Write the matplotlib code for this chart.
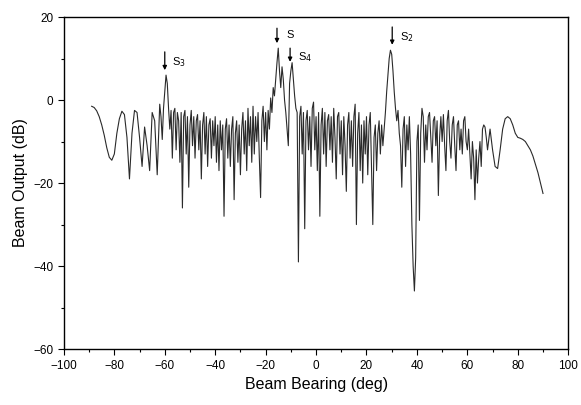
import numpy as np
import matplotlib.pyplot as plt

plt.rcParams['font.family'] = ['Liberation Sans', 'DejaVu Sans']

# beam output (dB), in three pieces:
# smooth left side, every 1 deg from -89 to -63
left_out = [
    -1.5, -1.8, -2.6, -4.0, -6.0, -8.5, -11.5, -13.8, -14.5, -13.0,
    -8.0, -4.5, -2.7, -3.5, -9.0, -19.0, -8.0, -2.5, -3.0, -9.0,
    -16.0, -6.5, -11.0, -17.0, -3.0, -5.0, -18.0,
]
# noisy middle, every 0.5 deg from -62 to 68
mid_out = [
    -1, -4, -9.5, -2, 2, 6, 4, -2, -7, -2.5,
    -14, -3, -2, -12, -3, -5, -15, -3, -26, -4,
    -2.5, -13, -4, -21, -6, -2.5, -11, -4, -14, -5,
    -3.5, -12, -5, -19, -6, -3, -13, -4, -16, -6,
    -4.5, -14, -5, -11, -4, -15, -6, -17, -5, -12,
    -6, -28, -7, -4.5, -14, -6, -16, -7, -4, -24,
    -8, -5, -15, -6, -18, -7, -3, -13, -5, -17,
    -2, -11, -4, -15, -1.5, -13, -4, -10, -3, -14,
    -23.5, -5, -1.5, -10, -3, -12, -2.5, -7, 0.5, -3,
    3, 1, 5, 9, 12.5, 7, 3, 8, 5, 0,
    -3, -7, -11, 4, 7, 9, 5, 1, -2, -3,
    -39, -4, -1.5, -13, -3, -31, -5, -2.5, -12, -4,
    -16, -2, -0.5, -12, -4, -17, -3, -28, -6, -2,
    -13, -3, -16, -5, -3.5, -12, -4, -15, -2, -9,
    -19, -4, -3, -13, -5, -18, -4, -11, -22, -6,
    -3, -14, -5, -16, -4, -1, -30, -8, -3, -17,
    -6, -20, -5, -13, -4, -18, -6, -3, -16, -30,
    -9, -6, -17, -8, -5, -13, -6, -11, -7, -3,
    2, 6, 10, 12, 11, 7, 2, -2, -5, -2.5,
    -8, -11, -21, -7, -4, -16, -6, -12, -4, -13,
    -30, -40, -46, -38, -10, -6, -29, -8, -2, -4,
    -15, -6, -12, -4, -3, -9, -15, -5, -4, -11,
    -5, -23, -9, -4, -10, -3.5, -11, -17, -5, -2.5,
    -10, -14, -6, -4, -11, -17, -6, -5, -12, -7,
    -13, -5, -4, -10, -12, -7, -13, -19, -10, -14,
    -24, -12, -20, -14, -10, -16, -7, -6, -6.5, -9,
    -12,
]
# smooth right side, every 1 deg from 69 to 90
right_out = [
    -7.0, -12.0, -16.0, -16.5, -12.0, -7.0, -4.5, -4.0, -4.5, -6.0,
    -8.0, -9.0, -9.2, -9.5, -10.0, -11.0, -12.0, -13.5, -15.5, -17.5,
    -20.0, -22.5,
]

bearing = np.concatenate([np.arange(-89, -62, 1.0),
                          np.arange(-62, 68.5, 0.5),
                          np.arange(69, 91, 1.0)])
output = np.array(left_out + mid_out + right_out, dtype=float)

# source markers
src_names = ['S$_3$', 'S', 'S$_4$', 'S$_2$']
src_x = [-60, -15.5, -10.3, 30.2]
src_top = [11.6, 17.3, 12.5, 17.6]
src_tip = [7.2, 13.7, 9.2, 13.3]
src_lab = [(-57, 9.2), (-11.8, 15.7), (-7.0, 10.4), (33.2, 15.2)]

fig = plt.figure(figsize=(5.81, 4.05), dpi=100)
ax = fig.add_axes([0.110, 0.138, 0.868, 0.820])

ax.plot(bearing, output, color='#2a2a2a', lw=0.8)

for name, x, top, tip, (lx, ly) in zip(src_names, src_x, src_top, src_tip, src_lab):
    ax.annotate('', xy=(x, tip), xytext=(x, top),
                arrowprops=dict(arrowstyle='-|>', color='black', lw=0.9,
                                mutation_scale=6, shrinkA=0, shrinkB=0))
    ax.text(lx, ly, name, fontsize=8, va='center', ha='left')

ax.set_xlim(-100, 100)
ax.set_ylim(-60, 20)
ax.set_xticks(np.arange(-100, 101, 20))
ax.set_xticks(np.arange(-90, 100, 20), minor=True)
ax.set_yticks(np.arange(-60, 21, 20))
ax.set_yticks(np.arange(-50, 20, 20), minor=True)
ax.tick_params(which='major', direction='out', length=4, width=0.8, labelsize=8.5)
ax.tick_params(which='minor', direction='out', length=2.5, width=0.8)

ax.set_xlabel('Beam Bearing (deg)', fontsize=11.5)
ax.set_ylabel('Beam Output (dB)', fontsize=11.5)

for s in ax.spines.values():
    s.set_linewidth(1.0)

fig.savefig('out.png', dpi=100)
